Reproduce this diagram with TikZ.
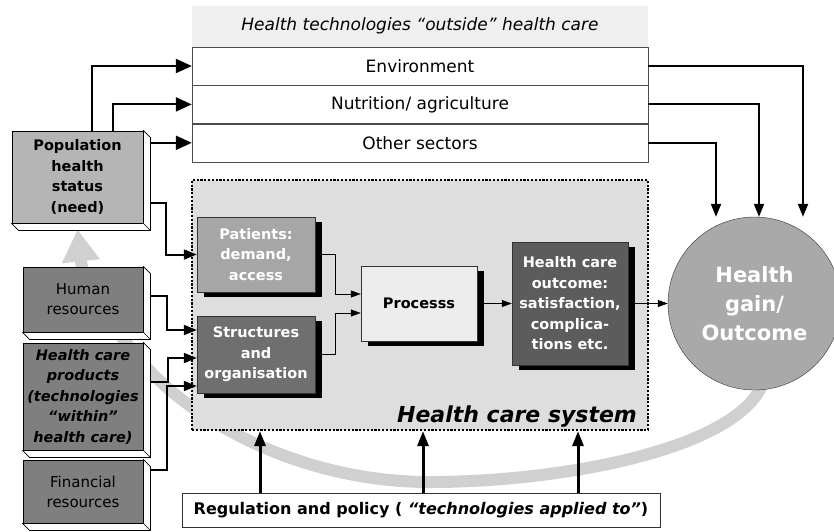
\documentclass[tikz,border=0pt]{standalone}
\usepackage{fontspec}
\setmainfont{DejaVu Sans}
\usetikzlibrary{arrows.meta,positioning,calc,shadows,backgrounds}
\definecolor{hdrgray}{HTML}{EFEFEF}
\definecolor{sysgray}{HTML}{DEDEDE}
\definecolor{popgray}{HTML}{B5B5B5}
\definecolor{resgray}{HTML}{7F7F7F}
\definecolor{patgray}{HTML}{A6A6A6}
\definecolor{strgray}{HTML}{6F6F6F}
\definecolor{procgray}{HTML}{EDEDED}
\definecolor{outgray}{HTML}{5C5C5C}
\definecolor{gaingray}{HTML}{A9A9A9}
\definecolor{bandgray}{HTML}{D0D0D0}
\newcommand{\boxfont}{\fontsize{14.5}{20.5}\selectfont\bfseries}
\newcommand{\resfont}{\fontsize{15}{20}\selectfont}
\newcommand{\rowfont}{\fontsize{17}{20}\selectfont}
\newcommand{\regfont}{\fontsize{16}{20}\selectfont\bfseries}
\newcommand{\gainfont}{\fontsize{21}{29}\selectfont\bfseries}

\begin{document}
\begin{tikzpicture}[x=1pt,y=-1pt,
  sector/.style={draw=black!70,fill=white,minimum width=456pt,minimum height=38pt,inner sep=0pt,font=\rowfont},
  resbox/.style={draw=black,line width=0.9pt,fill=resgray,minimum width=120pt,inner sep=0pt,align=center},
  hcbox/.style={draw=black!80,inner sep=0pt,align=center,font=\boxfont,drop shadow={shadow xshift=7pt,shadow yshift=-5pt,fill=black,opacity=1}},
  bigarr/.style={-{Triangle[length=16pt,width=14pt]},line width=2pt},
  medarr/.style={-{Triangle[length=13pt,width=10pt]},line width=2pt},
  thinarr/.style={-{Triangle[length=10pt,width=7pt]},line width=0.8pt},
  polarr/.style={-{Triangle[length=15pt,width=11pt]},line width=3pt}]
  \useasboundingbox (0,0) rectangle (834,531);
  % sectors outside health care
  \node[sector] (env) at (420,66) {Environment};
  \node[sector,below=0pt of env] (nut) {Nutrition/ agriculture};
  \node[sector,below=0pt of nut] (oth) {Other sectors};
  \node[fill=hdrgray,minimum width=456pt,minimum height=41pt,inner sep=0pt,font=\rowfont\itshape,above=0pt of env] (hdr) {Health technologies “outside” health care};
  % health care system
  \node[draw,fill=sysgray,line width=2.2pt,dash pattern=on 2.2pt off 1.6pt,minimum width=456pt,minimum height=250pt] (hcs) at (420,305) {};
  \node[anchor=base east,inner sep=0pt,font=\fontsize{22}{26}\selectfont\bfseries\itshape] (hcslbl) at ($(hcs.south east)+(-12,-9)$) {Health care system};
  \node[hcbox,fill=patgray,text=white,minimum width=118pt,minimum height=75pt] (pat) at (256,254.5) {Patients:\\ demand,\\ access};
  \node[hcbox,fill=strgray,text=white,minimum width=118pt,minimum height=77pt] (str) at (256,354.5) {Structures\\ and\\ organisation};
  \node[hcbox,fill=procgray,minimum width=116pt,minimum height=75pt] (proc) at (419,303.5) {Processs};
  \node[hcbox,fill=outgray,text=white,minimum width=116pt,minimum height=123pt] (out) at (570,303.5) {Health care\\ outcome:\\ satisfaction,\\ complica-\\ tions etc.};
  % resources on the left
  \node[resbox,fill=popgray,minimum width=131pt,minimum height=92pt,font=\boxfont] (pop) at (77.5,177) {Population\\ health\\ status\\ (need)};
  \node[resbox,minimum height=65pt,font=\resfont] (hum) at (83,299.5) {Human\\ resources};
  \node[resbox,minimum height=107pt,font=\boxfont\itshape] (prod) at (83,396.5) {Health care\\ products\\ (technologies\\ “within”\\ health care)};
  \node[resbox,minimum height=63pt,font=\resfont] (fin) at (83,491.5) {Financial\\ resources};
  \foreach \n in {pop,hum,prod,fin}
    \draw[fill=white,line width=0.6pt] (\n.north east) -- ++(7,7) -- ($(\n.south east)+(7,7)$)
      -- ($(\n.south west)+(7,7)$) -- (\n.south west) -- (\n.south east) -- cycle
      (\n.south east) -- ++(7,7);
  % outcome and policy
  \node[circle,draw=black!80,fill=gaingray,text=white,minimum size=173pt,inner sep=0pt,align=center,font=\gainfont] (hg) at (754.5,303.5) {Health\\ gain/\\ Outcome};
  \node[draw=black!80,fill=white,minimum width=478pt,minimum height=34pt,inner sep=0pt,font=\regfont] (pol) at (421,510) {Regulation and policy ( \textit{“technologies applied to”})};
  % connectors
  \draw[bigarr] ([xshift=14.5pt]pop.north) |- (env.west);
  \draw[bigarr] ([xshift=35.5pt]pop.north) |- (nut.west);
  \draw[bigarr] ($(oth.west -| pop.east)+(7,0)$) -- (oth.west);
  \draw[medarr] ($(pop.east)+(7,26)$) -- ++(16,0) |- (pat.west);
  \draw[medarr] ($(hum.east)+(7,-4)$) -- ++(17,0) |- ([yshift=24.5pt]str.west);
  \draw[medarr] ($(prod.east)+(7,-14.5)$) -- ++(18,0) |- ([yshift=-3.5pt]str.west);
  \draw[medarr] ($(fin.east)+(7,-21.5)$) -- ++(17,0) |- ([yshift=-31.5pt]str.west);
  \draw[thinarr] ($(pat.east)+(7,0)$) -- ++(13,0) |- ([yshift=9.5pt]proc.west);
  \draw[thinarr] ($(str.east)+(7,0)$) -- ++(13,0) |- ([yshift=-9.5pt]proc.west);
  \draw[thinarr] ($(proc.east)+(7,0)$) -- (out.west);
  \draw[thinarr] ($(out.east)+(7,0)$) -- (hg.west);
  \foreach \r/\dx in {env/48.5,nut/4.5,oth/-38.5}
    \draw[medarr] (\r.east) -| ([xshift=\dx pt]hg.north);
  \foreach \dx in {-161,2,157}
    \draw[polarr] ($(pol.north)+(\dx,0)$) -- ($(pol.north |- hcs.south)+(\dx,0)$);
  % feedback band behind everything
  \begin{scope}[on background layer]
    \draw[bandgray,line width=12pt,-{Triangle[length=32pt,width=36pt]}] ($(hg.south)+(8,-6)$)
      .. controls (735,450) and (560,482) .. (430,482)
      .. controls (300,482) and (190,420) .. (140,360)
      .. controls (112,326) and (84,290) .. ($(pop.south)+(0,6)$);
  \end{scope}
\end{tikzpicture}
\end{document}
